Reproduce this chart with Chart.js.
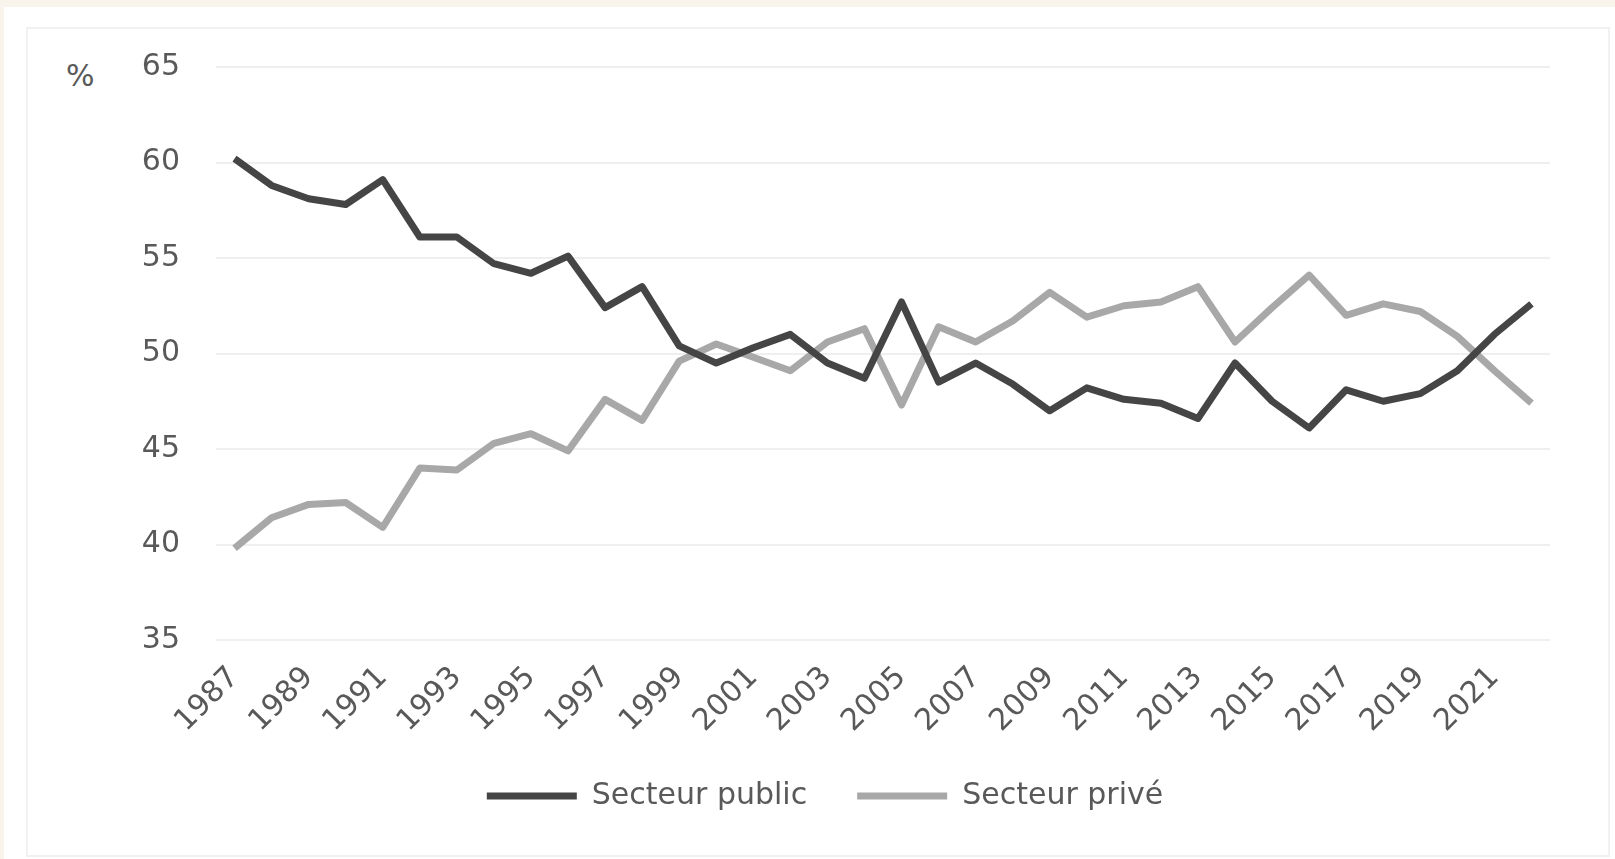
<!DOCTYPE html>
<html lang="fr">
<head>
<meta charset="utf-8">
<title>Secteur public / Secteur privé</title>
<script src="https://cdn.jsdelivr.net/npm/chart.js@4.4.1/dist/chart.umd.min.js"></script>
<style>
  html, body { margin: 0; padding: 0; }
  body { width: 1615px; height: 859px; background: #f8f4ec; position: relative; overflow: hidden; font-family: 'DejaVu Sans', sans-serif; }
  #fond { position: absolute; left: 4px; top: 7px; right: 0; bottom: 0; background: #ffffff; }
  #cadre { position: absolute; left: 26px; top: 27px; width: 1580px; height: 826px; border: 2px solid #f1f1f1; }
  #unite { position: absolute; left: 66px; top: 58px; font-size: 30px; color: #595959; }
  #zone { position: absolute; left: 0; top: 0; width: 1615px; height: 859px; }
</style>
</head>
<body>
<div id="fond"></div>
<div id="cadre"></div>
<div id="unite">%</div>
<div id="zone"><canvas id="graphique"></canvas></div>
<script>
// Années (catégories)
const annees = [
  '1987', '1988', '1989', '1990', '1991', '1992', '1993', '1994', '1995', '1996', '1997', '1998',
  '1999', '2000', '2001', '2002', '2003', '2004', '2005', '2006', '2007', '2008', '2009', '2010',
  '2011', '2012', '2013', '2014', '2015', '2016', '2017', '2018', '2019', '2020', '2021', '2022'
];

// Parts en %
const secteurPublic = [
  60.2, 58.8, 58.1, 57.8, 59.1, 56.1, 56.1, 54.7, 54.2, 55.1, 52.4, 53.5,
  50.4, 49.5, 50.3, 51.0, 49.5, 48.7, 52.7, 48.5, 49.5, 48.4, 47.0, 48.2,
  47.6, 47.4, 46.6, 49.5, 47.5, 46.1, 48.1, 47.5, 47.9, 49.1, 51.0, 52.6
];
const secteurPrive = [
  39.8, 41.4, 42.1, 42.2, 40.9, 44.0, 43.9, 45.3, 45.8, 44.9, 47.6, 46.5,
  49.6, 50.5, 49.8, 49.1, 50.6, 51.3, 47.3, 51.4, 50.6, 51.7, 53.2, 51.9,
  52.5, 52.7, 53.5, 50.6, 52.4, 54.1, 52.0, 52.6, 52.2, 50.9, 49.1, 47.4
];

// Graduations de l'axe vertical
const graduationsY = [35, 40, 45, 50, 55, 60, 65];

Chart.defaults.font.family = "'DejaVu Sans', sans-serif";
Chart.defaults.color = '#595959';

new Chart(document.getElementById('graphique'), {
  type: 'line',
  data: {
    labels: annees,
    datasets: [
      {
        label: 'Secteur public',
        data: secteurPublic,
        borderColor: '#454545',
        backgroundColor: '#454545',
        borderWidth: 7,
        pointRadius: 0,
        tension: 0,
        borderJoinStyle: 'round'
      },
      {
        label: 'Secteur privé',
        data: secteurPrive,
        borderColor: '#a8a8a8',
        backgroundColor: '#a8a8a8',
        borderWidth: 7,
        pointRadius: 0,
        tension: 0,
        borderJoinStyle: 'round'
      }
    ]
  },
  options: {
    responsive: true,
    maintainAspectRatio: false,
    animation: false,
    layout: { padding: { top: 67, left: 100, right: 65, bottom: 38 } },
    plugins: {
      tooltip: { enabled: false },
      legend: {
        position: 'bottom',
        labels: {
          boxWidth: 90,
          boxHeight: 7,
          padding: 50,
          font: { size: 30 },
          color: '#595959',
          generateLabels: chart => Chart.defaults.plugins.legend.labels.generateLabels(chart)
            .map(item => ({ ...item, lineWidth: 0 }))
        }
      }
    },
    scales: {
      x: {
        offset: true,
        grid: { display: false, drawTicks: false },
        border: { display: false },
        ticks: {
          autoSkip: false,
          minRotation: 45,
          maxRotation: 45,
          padding: 20,
          font: { size: 30 },
          callback: (valeur, i) => (i % 2 === 0 ? annees[i] : '')
        },
        afterFit: axe => { axe.height = 91; }
      },
      y: {
        min: 35,
        max: 65,
        grid: { color: '#efefef', lineWidth: 2, drawTicks: false },
        border: { display: false },
        afterBuildTicks: axe => { axe.ticks = graduationsY.map(v => ({ value: v })); },
        ticks: { padding: 36, font: { size: 30 } },
        afterFit: axe => { axe.width = 116; }
      }
    }
  }
});
</script>
</body>
</html>
